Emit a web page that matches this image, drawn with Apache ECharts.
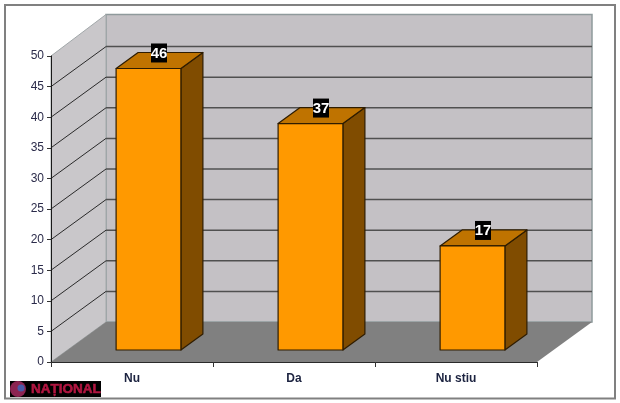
<!DOCTYPE html>
<html><head><meta charset="utf-8">
<style>html,body{margin:0;padding:0;background:#fff}#c{width:620px;height:403px}</style>
<script src="https://cdn.jsdelivr.net/npm/echarts@6/dist/echarts.min.js"></script>
</head><body><div id="c"></div>
<script>
const categories = ['Nu', 'Da', 'Nu stiu'];
const values = [46, 37, 17];
const yTicks = [0, 5, 10, 15, 20, 25, 30, 35, 40, 45, 50];

const WALL_DX = 55, WALL_DY = -40;           // full depth of the 3D box
const BAR_SHIFT_X = 16.5, BAR_SHIFT_Y = -12; // bar's front face inside the box
const BAR_DX = 22, BAR_DY = -16;             // depth of a bar
const BAR_FRAC = 0.4;
const EDGE = '#2e1c00';

const chart = echarts.init(document.getElementById('c'), null, {renderer: 'canvas'});

function renderWalls(params, api) {
  const cs = params.coordSys;
  const x0 = cs.x, x1 = cs.x + cs.width;
  const y0 = api.coord([0, 0])[1], yt = api.coord([0, 50])[1];
  const poly = (points, fill, stroke, w) => ({
    type: 'polygon', shape: {points},
    style: {fill, stroke: stroke || null, lineWidth: w || 1}
  });
  const kids = [
    poly([[x0 + WALL_DX, yt + WALL_DY - 1.5], [x1 + WALL_DX, yt + WALL_DY - 1.5], [x1 + WALL_DX, y0 + WALL_DY], [x0 + WALL_DX, y0 + WALL_DY]], '#c4c1c5', '#8f9a9c', 1.5),
    poly([[x0, y0], [x0, yt], [x0 + WALL_DX, yt + WALL_DY - 1.5], [x0 + WALL_DX, y0 + WALL_DY]], '#c9c7ca', '#a2a8aa', 1),
    poly([[x0, y0], [x1, y0], [x1 + WALL_DX, y0 + WALL_DY], [x0 + WALL_DX, y0 + WALL_DY]], '#808080', null)
  ];
  yTicks.forEach(t => {
    if (t === 0 || t === 50) return;
    const y = api.coord([0, t])[1];
    kids.push({type: 'polyline', shape: {points: [[x0, y], [x0 + WALL_DX, y + WALL_DY]]}, style: {stroke: '#2a2a2a', lineWidth: 1, fill: null}});
    kids.push({type: 'line', shape: {x1: x0 + WALL_DX, y1: y + WALL_DY, x2: x1 + WALL_DX, y2: y + WALL_DY}, style: {stroke: '#505050', lineWidth: 1.5}});
  });
  return {type: 'group', children: kids};
}

function renderBar(params, api) {
  const idx = api.value(0), val = api.value(1);
  const band = api.size([1, 0])[0];
  const c = api.coord([idx, val]), b = api.coord([idx, 0]);
  const w = band * BAR_FRAC;
  const l = c[0] - w / 2 + BAR_SHIFT_X, r = l + w;
  const t = c[1] + BAR_SHIFT_Y, bt = b[1] + BAR_SHIFT_Y;
  const st = {stroke: EDGE, lineWidth: 1.2, lineJoin: 'round'};
  return {type: 'group', children: [
    {type: 'polygon', shape: {points: [[r, t], [r + BAR_DX, t + BAR_DY], [r + BAR_DX, bt + BAR_DY], [r, bt]]}, style: {fill: '#804c00', ...st}},
    {type: 'polygon', shape: {points: [[l, t], [l + BAR_DX, t + BAR_DY], [r + BAR_DX, t + BAR_DY], [r, t]]}, style: {fill: '#bf7300', ...st}},
    {type: 'rect', shape: {x: l, y: t, width: w, height: bt - t}, style: {fill: '#ff9900', ...st}},
    {type: 'rect', shape: {x: l + BAR_DX / 2 - 1 + w / 2 - 7.5, y: t - 25, width: 16, height: 19}, style: {fill: '#000'}},
    {type: 'text', x: l + BAR_DX / 2 - 1 + w / 2 + 0.5, y: t - 15, style: {
      text: String(val), fill: '#fff', font: 'bold 15px "Liberation Sans"', align: 'center', verticalAlign: 'middle'
    }}
  ]};
}

chart.setOption({
  animation: false,
  backgroundColor: '#fff',
  grid: {left: 51, right: 83, top: 56, bottom: 41},
  xAxis: {
    type: 'category', data: categories, z: 5,
    axisLine: {show: true, lineStyle: {color: '#2a2a2a', width: 1}},
    axisTick: {show: true, alignWithLabel: false, length: 5, lineStyle: {color: '#333'}},
    axisLabel: {color: '#1c2340', fontFamily: 'Liberation Sans', fontSize: 12, fontWeight: 'bold', margin: 11}
  },
  yAxis: {
    type: 'value', min: 0, max: 50, interval: 5, z: 5,
    axisLine: {show: true, lineStyle: {color: '#1a1a1a', width: 1}},
    axisTick: {show: true, length: 4, lineStyle: {color: '#333'}},
    splitLine: {show: false},
    axisLabel: {color: '#2b2b4a', fontFamily: 'Liberation Sans', fontSize: 12, margin: 7, padding: [2, 0, 0, 0]}
  },
  graphic: [
    {type: 'rect', z: 0, shape: {x: 5, y: 5, width: 610, height: 393.5}, style: {fill: null, stroke: '#808080', lineWidth: 2}},
    {type: 'group', z: 10, children: [
      {type: 'rect', shape: {x: 10, y: 381, width: 91, height: 16}, style: {fill: '#000'}},
      {type: 'circle', z: 1, shape: {cx: 18, cy: 389, r: 8}, style: {fill: '#8c2452'}},
      {type: 'circle', z: 2, shape: {cx: 21, cy: 388, r: 3.5}, style: {fill: '#4a5aa8'}},
      {type: 'text', z: 3, x: 31, y: 389, style: {text: 'NAȚIONAL', fill: '#b01540', stroke: '#b01540', lineWidth: 0.6, font: 'bold 13.5px "Liberation Sans"', verticalAlign: 'middle', align: 'left'}}
    ]}
  ],
  series: [
    {type: 'custom', coordinateSystem: 'cartesian2d', z: 1, clip: false, silent: true, renderItem: renderWalls, data: [[0, 0]], encode: {x: 0, y: 1}},
    {type: 'custom', coordinateSystem: 'cartesian2d', z: 3, clip: false, silent: true, renderItem: renderBar, data: values.map((v, i) => [i, v]), encode: {x: 0, y: 1}}
  ]
});
</script></body></html>
